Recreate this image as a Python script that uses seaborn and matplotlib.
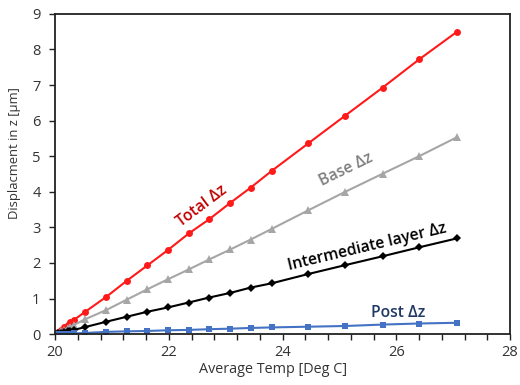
import numpy as np
import pandas as pd
import matplotlib
matplotlib.use("Agg")
import matplotlib.pyplot as plt
from matplotlib.ticker import MultipleLocator
import seaborn as sns

# ---- data ----
temps = [20.00, 20.05, 20.10, 20.16, 20.22, 20.27, 20.33, 20.53, 20.90, 21.26,
         21.62, 21.98, 22.35, 22.71, 23.08, 23.44, 23.81, 24.45, 25.10, 25.76,
         26.40, 27.06]
total = [0.00, 0.06, 0.12, 0.19, 0.26, 0.33, 0.40, 0.63, 1.05, 1.50,
         1.93, 2.36, 2.83, 3.23, 3.69, 4.12, 4.59, 5.36, 6.14, 6.93,
         7.72, 8.49]
base = [0.00, 0.04, 0.08, 0.12, 0.17, 0.21, 0.26, 0.42, 0.68, 0.97,
        1.26, 1.54, 1.82, 2.10, 2.38, 2.66, 2.96, 3.48, 4.00, 4.51,
        5.00, 5.53]
intermediate = [0.00, 0.02, 0.04, 0.06, 0.08, 0.10, 0.12, 0.20, 0.35, 0.49,
                0.63, 0.75, 0.89, 1.03, 1.16, 1.31, 1.43, 1.69, 1.94, 2.19,
                2.44, 2.69]
post = [0.00, 0.003, 0.006, 0.01, 0.013, 0.016, 0.02, 0.035, 0.065, 0.08,
        0.09, 0.11, 0.12, 0.14, 0.155, 0.175, 0.19, 0.21, 0.23, 0.27,
        0.30, 0.32]

x_ticks = [20, 22, 24, 26, 28]
y_ticks = list(range(0, 10))

sns.set_style("ticks")
plt.rcParams['font.family'] = ['Open Sans', 'DejaVu Sans']

fig = plt.figure(figsize=(5.2, 3.85), dpi=100)
ax = fig.add_axes([0.106, 0.132, 0.875, 0.832])

series = [
    (total, "#FF1A1A", "o", 5.0),
    (base, "#A6A6A6", "^", 5.2),
    (intermediate, "#000000", "D", 4.0),
    (post, "#4472C4", "s", 4.6),
]
for vals, col, mk, ms in series:
    sns.lineplot(x=temps, y=vals, color=col, marker=mk, markersize=ms,
                 markeredgewidth=0, linewidth=1.5, ax=ax, legend=False,
                 sort=False, estimator=None)

ax.set_xlim(20, 28)
ax.set_ylim(0, 9)
ax.set_xticks(x_ticks)
ax.set_yticks(y_ticks)
ax.xaxis.set_minor_locator(MultipleLocator(0.4))
ax.tick_params(axis='both', which='major', direction='out', length=4.5,
               width=1.0, labelsize=10.5, colors='#222222', labelcolor='#333333')
ax.tick_params(axis='x', which='major', pad=3)
ax.tick_params(axis='y', which='major', pad=6)
ax.tick_params(axis='x', which='minor', direction='out', length=4.5, width=1.0,
               colors='#222222')
for s in ax.spines.values():
    s.set_visible(True)
    s.set_color('#222222')
    s.set_linewidth(1.3)

ax.set_xlabel("Average Temp [Deg C]", fontsize=10.4, color='#333333')
ax.set_ylabel("Displacment in z [µm]", fontsize=9.4, color='#333333')
ax.xaxis.set_label_coords(0.478, -0.088)
ax.yaxis.set_label_coords(-0.075, 0.566)

def disp_to_data(px, py):
    inv = ax.transData.inverted()
    return inv.transform((px, 385 - py))

fig.canvas.draw()
labels = [
    ("Total Δz", (202, 206), 37, "#C00000"),
    ("Base Δz", (346, 170), 26, "#7F7F7F"),
    ("Intermediate layer Δz", (367, 247), 13.5, "#000000"),
    ("Post Δz", (398, 313), 0, "#1F3864"),
]
for txt, (px, py), rot, col in labels:
    dx, dy = disp_to_data(px, py)
    ax.text(dx, dy, txt, rotation=rot, color=col, fontsize=11.3,
            fontweight='semibold', ha='center', va='center',
            rotation_mode='anchor')

fig.savefig("out.png", dpi=100)
